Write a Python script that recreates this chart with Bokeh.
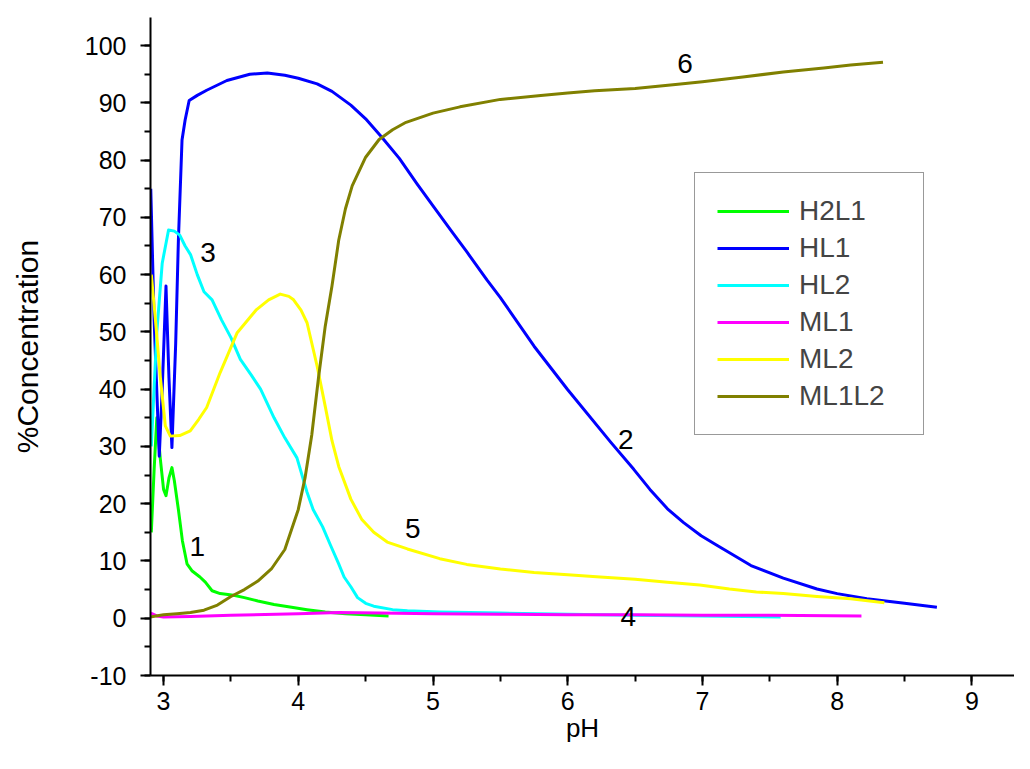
from bokeh.plotting import figure
from bokeh.models import (Range1d, SingleIntervalTicker, Legend, LegendItem, PrintfTickFormatter)
from bokeh.core.properties import value
from bokeh.embed import file_html
from bokeh.resources import INLINE

# ---- data ----
h2l1_ph = [2.909, 2.93, 2.95, 2.975, 3.0, 3.018, 3.04, 3.062, 3.08, 3.11, 3.14, 3.174, 3.21, 3.27, 3.31,
           3.36, 3.42, 3.52, 3.6, 3.7, 3.82, 3.95, 4.065, 4.2, 4.35, 4.5, 4.67]
h2l1_c = [15, 26, 35, 28, 22.5, 21.4, 24.5, 26.3, 24, 19, 13.5, 9.5, 8.3, 7.2, 6.3,
          4.8, 4.3, 4.0, 3.6, 3.0, 2.4, 1.9, 1.5, 1.1, 0.8, 0.6, 0.4]

hl1_ph = [2.905, 2.93, 2.968, 2.99, 3.018, 3.04, 3.062, 3.09, 3.11, 3.137, 3.16, 3.19, 3.25, 3.32, 3.47,
          3.64, 3.77, 3.9, 4.0, 4.14, 4.25, 4.39, 4.5, 4.62, 4.75, 4.88, 5.0, 5.13, 5.25, 5.4, 5.5,
          5.75, 6.0, 6.32, 6.49, 6.61, 6.74, 6.86, 6.99, 7.11, 7.36, 7.6, 7.85, 8.0, 8.22, 8.5, 8.74]
hl1_c = [75, 52, 28.3, 40, 58, 42, 29.8, 48, 66, 83.5, 87, 90.4, 91.3, 92.2, 93.9,
         95, 95.2, 94.8, 94.3, 93.3, 92, 89.6, 87.2, 84, 80.3, 75.9, 72, 67.8, 64, 59.1, 56,
         47.5, 39.9, 30.7, 26.0, 22.5, 19.1, 16.7, 14.4, 12.7, 9.2, 7.0, 5.1, 4.3, 3.4, 2.6, 1.9]

hl2_ph = [2.909, 2.95, 2.99, 3.037, 3.08, 3.12, 3.16, 3.2, 3.25, 3.3, 3.36, 3.43, 3.5, 3.57, 3.65,
          3.72, 3.82, 3.9, 3.99, 4.065, 4.11, 4.18, 4.24, 4.3, 4.34, 4.39, 4.44, 4.5, 4.56, 4.7,
          4.81, 5.05, 5.5, 6.0, 6.5, 7.0, 7.58]
hl2_c = [30, 50, 62, 67.8, 67.6, 66.9, 65, 63.5, 60, 57, 55.6, 52.1, 49, 45.2, 42.5,
         40, 35, 31.5, 28, 22, 19, 16, 12.7, 9.5, 7.2, 5.5, 3.6, 2.6, 2.1, 1.5,
         1.3, 1.1, 0.9, 0.7, 0.5, 0.4, 0.2]

ml1_ph = [2.905, 2.95, 3.0, 3.2, 3.5, 4.0, 4.3, 4.6, 5.0, 5.5, 6.0, 6.5, 7.0, 7.5, 8.18]
ml1_c = [0.9, 0.4, 0.2, 0.3, 0.5, 0.8, 1.0, 0.9, 0.8, 0.7, 0.6, 0.6, 0.5, 0.5, 0.4]

ml2_ph = [2.909, 2.94, 2.975, 3.013, 3.05, 3.12, 3.198, 3.26, 3.32, 3.42, 3.545, 3.69, 3.78, 3.866,
          3.93, 3.965, 4.02, 4.065, 4.14, 4.2, 4.25, 4.3, 4.39, 4.47, 4.56, 4.66, 4.81, 5.05, 5.25,
          5.5, 5.75, 6.0, 6.24, 6.5, 6.74, 6.98, 7.2, 7.4, 7.6, 7.85, 8.1, 8.35]
ml2_c = [60, 52, 42.3, 33.6, 31.8, 31.9, 32.7, 34.7, 36.8, 42.9, 49.8, 53.9, 55.6, 56.6,
         56.2, 55.6, 53.8, 51.6, 44, 37, 31, 26.5, 20.8, 17.3, 15, 13.3, 12.1, 10.4, 9.4,
         8.6, 8.0, 7.6, 7.2, 6.8, 6.3, 5.8, 5.1, 4.6, 4.3, 3.8, 3.4, 2.7]

ml1l2_ph = [2.90, 3.0, 3.1, 3.2, 3.3, 3.4, 3.5, 3.6, 3.7, 3.8, 3.9, 4.0, 4.05, 4.1, 4.15, 4.2, 4.25,
            4.3, 4.35, 4.4, 4.5, 4.6, 4.7, 4.8, 5.0, 5.2, 5.5, 5.8, 6.0, 6.2, 6.5, 6.8, 7.0, 7.3,
            7.6, 7.9, 8.1, 8.34]
ml1l2_c = [0.2, 0.6, 0.8, 1.0, 1.4, 2.3, 3.8, 5.0, 6.5, 8.6, 12.0, 19, 24.5, 32, 42, 51, 58,
           66, 71.5, 75.5, 80.5, 83.6, 85.3, 86.6, 88.2, 89.3, 90.6, 91.3, 91.7, 92.1, 92.5, 93.2, 93.7, 94.5,
           95.4, 96.1, 96.6, 97.1]

series_names = ["H2L1", "HL1", "HL2", "ML1", "ML2", "ML1L2"]
series_x = [h2l1_ph, hl1_ph, hl2_ph, ml1_ph, ml2_ph, ml1l2_ph]
series_y = [h2l1_c, hl1_c, hl2_c, ml1_c, ml2_c, ml1l2_c]
series_colors = ["#00ff00", "#0000ff", "#00ffff", "#ff00ff", "#ffff00", "#808000"]

curve_labels = ["1", "2", "3", "4", "5", "6"]
curve_label_x = [3.25, 6.43, 3.33, 6.45, 4.85, 6.87]
curve_label_y = [12.6, 31.2, 63.8, 0.3, 15.6, 96.9]

FONT = "Liberation Sans"

p = figure(width=1014, height=753, output_backend="svg", toolbar_location=None,
           x_range=Range1d(2.903, 9.316), y_range=Range1d(-10, 104.9),
           min_border_left=150, min_border_right=0, min_border_top=17, min_border_bottom=78)
p.outline_line_color = None
p.xgrid.visible = False
p.ygrid.visible = False
p.background_fill_color = "white"
p.border_fill_color = "white"

p.xaxis.ticker = SingleIntervalTicker(interval=1, num_minor_ticks=2)
p.yaxis.ticker = SingleIntervalTicker(interval=10, num_minor_ticks=2)
p.xaxis.formatter = PrintfTickFormatter(format="%d")
p.yaxis.formatter = PrintfTickFormatter(format="%d")
for ax in (p.xaxis[0], p.yaxis[0]):
    ax.axis_line_width = 2
    ax.axis_line_color = "black"
    ax.major_tick_line_width = 2
    ax.minor_tick_line_width = 2
    ax.major_tick_out = 10
    ax.major_tick_in = 0
    ax.minor_tick_out = 6
    ax.minor_tick_in = 0
    ax.major_label_text_font = FONT
    ax.major_label_text_font_size = "25px"
    ax.major_label_text_color = "black"
    ax.axis_label_text_font = FONT
    ax.axis_label_text_font_style = "normal"
    ax.axis_label_text_color = "black"
p.yaxis.major_label_standoff = 14
p.xaxis.major_label_standoff = 6

p.yaxis.axis_label = "%Concentration"
p.yaxis.axis_label_text_font_size = "30px"
p.yaxis.axis_label_standoff = 38
p.xaxis.axis_label = "pH"
p.xaxis.axis_label_text_font_size = "26px"
p.xaxis.axis_label_standoff = 0

items = []
for name, xs, ys, col in zip(series_names, series_x, series_y, series_colors):
    r = p.line(xs, ys, line_color=col, line_width=3, line_join="round")
    items.append(LegendItem(label=name, renderers=[r]))

p.text(x=curve_label_x, y=curve_label_y, text=curve_labels, text_font=value(FONT),
       text_font_size="28px", text_align="center", text_baseline="middle", text_color="black")

legend = Legend(items=items, location=(544, 240), padding=22, glyph_width=72, glyph_height=32,
                label_height=32, label_width=102, spacing=5, label_standoff=10,
                label_text_font=FONT, label_text_font_size="28px",
                border_line_color="#333333", border_line_width=1.5,
                background_fill_color="white", background_fill_alpha=1.0, margin=0)
p.add_layout(legend, "center")

open("out.html", "w").write(file_html(p, INLINE))
